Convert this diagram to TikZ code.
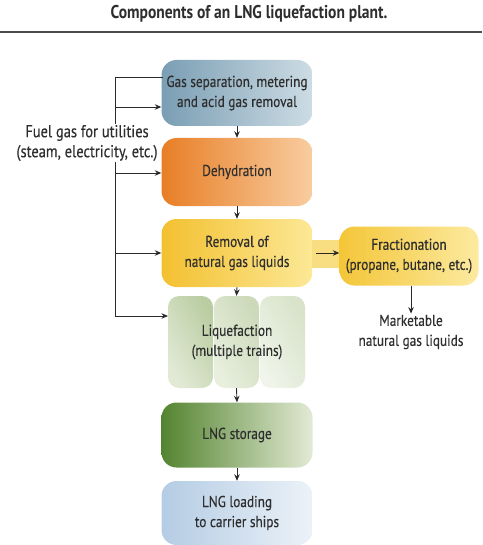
\documentclass[tikz,border=0pt]{standalone}
\usepackage{fontspec}
\setmainfont[FakeStretch=0.84, UprightFeatures={FakeBold=0.35}]{PT Sans}
\usetikzlibrary{arrows.meta}
\definecolor{txt}{HTML}{2e2e2e}
\definecolor{ln}{HTML}{2a2a2a}
\tikzset{
  box/.style={rounded corners=15pt, minimum width=151pt, inner sep=0pt, align=center,
    text=txt, font=\fontsize{15.8}{20}\selectfont, shading angle=-60},
  col/.style={rounded corners=11pt},
  arr/.style={draw=ln, line width=0.9pt, -{Stealth[length=6.5pt,width=5.5pt]}},
  plain/.style={draw=ln, line width=0.9pt},
  lbl/.style={text=txt, align=center, font=\fontsize{15.8}{20}\selectfont, inner sep=1pt}
}
\begin{document}
\begin{tikzpicture}[x=1pt,y=-1pt]
\useasboundingbox (0,0) rectangle (482,545);
% title
\node[font=\bfseries\fontsize{18.5}{20}\selectfont, text=txt] (title) at (249,14) {Components of an LNG liquefaction plant.};
\draw[draw=black!70, line width=1.4pt] (0,32) -- (482,32);
% tab between removal and fractionation
\fill[color={rgb,255:red,248;green,222;blue,128}] (305,240) rectangle (348,268);
% boxes
\node[box, minimum height=66pt, left color={rgb,255:red,122;green,158;blue,180}, right color={rgb,255:red,205;green,220;blue,228}] (gas) at (237,93) {Gas separation, metering\\and acid gas removal};
\node[box, minimum height=68pt, left color={rgb,255:red,232;green,126;blue,38}, right color={rgb,255:red,248;green,205;blue,160}] (dehy) at (237,172) {Dehydration};
\node[box, minimum height=68pt, left color={rgb,255:red,243;green,192;blue,48}, right color={rgb,255:red,252;green,232;blue,150}] (ngl) at (237,253) {Removal of\\natural gas liquids};
\node[box, minimum width=139pt, minimum height=59pt, left color={rgb,255:red,244;green,198;blue,56}, right color={rgb,255:red,252;green,234;blue,160}] (frac) at (409,256) {Fractionation\\(propane, butane, etc.)};
% liquefaction trains
\shade[col, left color={rgb,255:red,186;green,205;blue,162}, right color={rgb,255:red,226;green,234;blue,214}, shading angle=-60] (168,296) rectangle (213,388);
\shade[col, left color={rgb,255:red,204;green,218;blue,186}, right color={rgb,255:red,232;green,239;blue,222}, shading angle=-60] (214,296) rectangle (259,388);
\shade[col, left color={rgb,255:red,216;green,227;blue,202}, right color={rgb,255:red,240;green,244;blue,234}, shading angle=-60] (260,296) rectangle (305,388);
\node[inner sep=0pt, minimum width=137pt, minimum height=92pt] (liq) at (236.5,342) {};
\node[lbl] (liqt) at (237,342) {Liquefaction\\(multiple trains)};
\node[box, minimum height=65pt, left color={rgb,255:red,84;green,132;blue,48}, right color={rgb,255:red,226;green,234;blue,212}] (stor) at (237,435) {LNG storage};
\node[box, minimum height=64pt, left color={rgb,255:red,180;green,204;blue,228}, right color={rgb,255:red,236;green,242;blue,248}] (load) at (237,513) {LNG loading\\to carrier ships};
% vertical flow
\draw[arr] (gas.south) -- (dehy.north);
\draw[arr] (dehy.south) -- (ngl.north);
\draw[arr] (ngl.south) -- (liq.north);
\draw[arr] (liq.south) -- (stor.north);
\draw[arr] (stor.south) -- (load.north);
\draw[arr] (316,253) -- (frac.west |- 0,253);
% marketable
\node[lbl] (mkt) at (411,332) {Marketable\\natural gas liquids};
\draw[arr] (frac.south -| mkt.north) -- (mkt.north);
% fuel gas
\coordinate (f1) at (115,77);
\coordinate (f5) at (115,316);
\draw[plain] (f1) -- (163,77);
\draw[plain] (f1) -- (f5);
\draw[arr] (115,107) -- (gas.west |- 0,107);
\draw[arr] (115,173) -- (dehy.west |- 0,173);
\draw[arr] (115,253) -- (ngl.west |- 0,253);
\draw[arr] (f5) -- (168,316);
\node[lbl, fill=white, font=\fontsize{17.2}{20}\selectfont] (fuel) at (87,143) {Fuel gas for utilities\\(steam, electricity, etc.)};
\end{tikzpicture}
\end{document}
